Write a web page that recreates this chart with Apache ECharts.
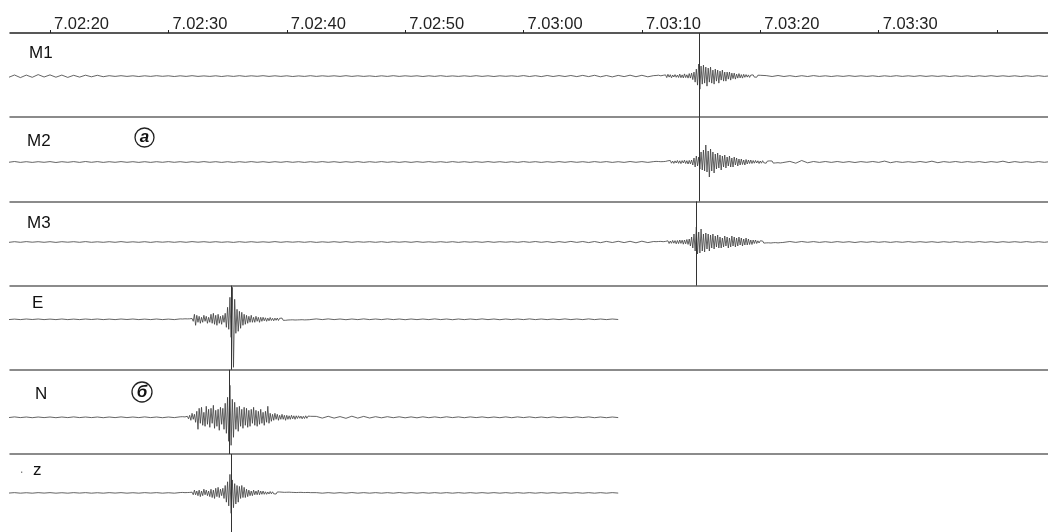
<!DOCTYPE html>
<html><head><meta charset="utf-8">
<script src="https://cdn.jsdelivr.net/npm/echarts@6/dist/echarts.min.js"></script>
<style>html,body{margin:0;padding:0;background:#fff}#c{width:1048px;height:532px}</style>
</head><body><div id="c"></div>
<script>
// time in seconds after 7.02:00
const channelNames = ['M1','M2','M3','E','N','z'];
const tickTimes = [20,30,40,50,60,70,80,90,100];
const tickLabels = ['7.02:20','7.02:30','7.02:40','7.02:50','7.03:00','7.03:10','7.03:20','7.03:30',''];
const pickTimes = [74.83, 74.87, 74.58, 35.29, 35.14, 35.29];
const eventStart = [71.0, 71.0, 71.0, 31.0, 31.0, 31.0];
const dtEvent = 0.1;
const dtNoise = 0.5;

const M1_pre = [1.2,-1,1.4,-1.3,1.1,-1.5,1,-1.2,1.5,-.9,1.2,-1.1,1,-1.3,.8,-1,.9,-.7,.8,-.6,.4,-.3,.4,-.3,.3,-.4,.3,-.3,.4,-.2,.3,-.4,.3,-.3,.4,-.3,.2,-.3,.3,-.4,.3,-.3,.4,-.3,.3,-.2,.4,-.3,.3,-.3,.3,-.4,.2,-.3,.4,-.3,.3,-.2,.3,-.3,.4,-.3,.3,-.3,.2,-.4,.3,-.3,.4,-.3,.3,-.2,.3,-.4,.3,-.3,.4,-.3,.2,-.3,.3,-.3,.4,-.3,.3,-.4,.3,-.2,.3,-.3,.5,-.4,.4,-.5,.6,-.4,.5,-.4,.6,-.5,.7,-.5,.8,-.7,.6,-.8,.7,-.5,.9,-.6,.8,-.7];
const M1_event = [.5,-.8,.6,-.4,.9,-.7,.3,-.6,.8,-.5,1.2,-1.5,1.8,-1,1.4,-1.7,1.1,-.9,1.5,-1.2,1,-1.4,2,-1.6,1.2,-1.8,2.2,-1.5,1.3,-2,2.5,-2,3,-3.5,4,-6,7,-9,12,-13,10,-8,11,-7,9,-10,8,-6,9,-7,6,-8,7,-5,6,-7,5,-4,6,-5,4,-5,4,-3,4,-4,3,-2.5,3,-3,2,-2,2.5,-1.8,1.5,-2,1.8,-1.2,1.5,-1,1.2,-1.3,1,-.8,1.2,-1,.8,-1.1,.9,-.7,.8];
const M1_post = [.5,-.4,.6,-.4,.4,-.5,.4,-.4,.5,-.3,.3,-.4,.3,-.3,.4,-.3,.3,-.3,.3,-.4,.3,-.3,.4,-.3,.3,-.3,.4,-.3,.3,-.3,.3,-.4,.3,-.3,.3,-.4,.3,-.3,.4,-.3,.3,-.3,.3,-.4,.3,-.3,.4,-.3,.3,-.3];

const M2_pre = [.3,-.4,.4,-.3,.5,-.4,.3,-.4,.3,-.3,.4,-.5,.3,-.3,.4,-.4,.5,-.3,.4,-.4,.3,-.3,.4,-.3,.3,-.4,.3,-.4,.3,-.3,.4,-.3,.3,-.4,.3,-.3,.4,-.3,.3,-.4,.3,-.4,.3,-.3,.4,-.3,.3,-.4,.3,-.3,.4,-.3,.3,-.4,.3,-.3,.4,-.3,.3,-.4,.3,-.3,.4,-.4,.3,-.3,.4,-.3,.3,-.4,.3,-.4,.3,-.3,.4,-.3,.3,-.4,.4,-.3,.3,-.4,.3,-.3,.4,-.3,.3,-.4,.3,-.4,.4,-.3,.3,-.4,.3,-.3,.4,-.3,.4,-.3,.3,-.4,.4,-.3,.4,-.4,.3,-.4,.5,-.3,.4,-.4];
const M2_event = [.4,-.5,.6,-.4,.5,-.6,.3,-.5,.4,-.3,.6,-1,1.2,-.8,1.5,-1.2,.9,-1.4,1.1,-1,1.5,-1.3,1.2,-1.6,1.4,-1,1.8,-1.5,1.3,-2,1.6,-1.8,2,-3,4,-5,6,-4,5,-7,10,-8,12,-9,17,-10,11,-15,13,-9,10,-11,8,-7,9,-6,7,-8,6,-5,7,-6,5,-4,6,-5,4,-5,5,-3,4,-4,3,-3,3,-2.5,2,-3,2.5,-2,2,-1.5,2,-1.5,1.5,-1.2,1.5,-1,1.2,-1.5,1,-1.2,1.3,-.8,1,-1.2,.9,-1,1.1,-.8,1,-1.1,.8,-.9,1,-.7,.9,-1,.8,-.6,.8];
const M2_post = [.6,-1.2,1.5,-.8,.5,-.4,.5,-.4,.5,-.4,.4,-.5,.4,-.3,.5,-.4,.9,-.7,.4,-.4,.3,-.4,.5,-.4,.8,-.7,.4,-.3,.5,-.4,.4,-.3,.4,-.5,.4,-.3,.8,-.6,.4,-.4,.3,-.4,.4,-.3,.4,-.4,.3];

const M3_pre = [.3,-.3,.2,-.4,.3,-.3,.4,-.2,.3,-.3,.3,-.4,.3,-.2,.3,-.3,.4,-.3,.2,-.3,.3,-.3,.4,-.3,.2,-.3,.3,-.4,.3,-.2,.3,-.3,.3,-.3,.4,-.2,.3,-.3,.3,-.3,.2,-.4,.3,-.3,.3,-.3,.2,-.3,.4,-.3,.3,-.2,.3,-.3,.3,-.4,.2,-.3,.3,-.3,.4,-.3,.3,-.2,.3,-.3,.3,-.4,.3,-.2,.3,-.3,.4,-.3,.2,-.3,.3,-.3,.3,-.4,.3,-.2,.3,-.3,.4,-.3,.3,-.2,.3,-.3,.4,-.3,.5,-.3,.4,-.5,.4,-.4,.6,-.4,.5,-.6,.5,-.7,.6,-.5,.7,-.6,.7,-.8,.8,-.6];
const M3_event = [.5,-.4,.3,-.6,.5,-.4,.6,-.5,.3,-.4,.6,-1,1.2,-1.5,1,-1.3,1.6,-1.2,1.4,-1.8,1.5,-1.6,2,-1.4,1.8,-2.2,2,-1.8,2.5,-2.4,3,-4,5,-6,8,-9,15,-12,10,-11,13,-9,8,-10,9,-7,8,-9,7,-6,8,-7,6,-5,7,-6,5,-6,4,-5,6,-4,5,-6,4,-5,6,-4,5,-5,4,-4,5,-3,4,-4,3,-3,4,-3,3,-2.5,2,-2.5,2,-1.5,2,-1.5,1.2,-1,1.2,-.8,1,-1.1,.7,-.9,1,-.8,.6,-1,.8,-.7,.9,-.6,.8,-.9,.7,-.6,.8,-.5,.7];
const M3_post = [.5,-.4,.5,-.3,.4,-.4,.3,-.4,.4,-.3,.3,-.5,.3,-.3,.4,-.3,.3,-.4,.3,-.3,.4,-.3,.3,-.3,.3,-.4,.3,-.3,.4,-.3,.3,-.3,.4,-.3,.3,-.4,.3,-.3,.3,-.3,.4,-.3,.3,-.3,.4,-.3,.3];

const E_pre = [.3,-.3,.2,-.3,.3,-.2,.3,-.3,.2,-.3,.3,-.3,.2,-.3,.3,-.2,.3,-.3,.2,-.3,.3,-.2,.3,-.3,.2,-.3,.3,-.3,.2,-.3];
const E_event = [.4,-.5,.3,-.4,.5,-.3,.4,-.6,.5,-.4,.8,-2,5,-6,4,-3,3,-4,2,-3,4,-2,3,-4,2,-3,5,-4,6,-5,4,-6,5,-4,3,-5,4,-3,6,-8,12,-10,22,-18,32,-48,20,-14,10,-12,8,-9,7,-6,5,-5,4,-4,3,-3,4,-3,2,-3,3,-2,2,-3,2,-2,2,-1.5,1.5,-2,1.2,-1.5,1.8,-1.2,1,-1.5,1.2,-1,1.3,-1.2,1,-.8,1.2,-1,.8,-1,.9,-.7,.8,-.6,.7,-.5,.6,-.7,.5,-.6,.4,-.5,.6,-.4,.5,-.6,.4,-.5,.3,-.4,.5];
const E_post = [.4,-.3,.4,-.3,.3,-.4,.3,-.3,.4,-.3,.3,-.3,.4,-.3,.3,-.4,.3,-.3,.3,-.3,.4,-.3,.3,-.4,.3,-.3,.3,-.3,.4,-.3,.3,-.4,.3,-.3,.3,-.3,.4,-.3,.3,-.3,.3,-.3,.4,-.3,.3,-.3,.4,-.3,.3,-.3,.3,-.2];

const N_pre = [.3,-.3,.4,-.3,.3,-.4,.3,-.3,.3,-.4,.3,-.3,.4,-.3,.3,-.3,.3,-.4,.3,-.3,.4,-.3,.3,-.3,.4,-.3,.3,-.4,.3,-.3];
const N_event = [.5,-.4,.6,-.5,.4,-.6,1,-1.5,2,-3,4,-2,3,-5,6,-12,9,-6,10,-8,5,-9,11,-7,8,-10,9,-6,12,-11,7,-9,8,-13,10,-7,9,-12,14,-16,20,-24,32,-28,18,-20,15,-12,10,-14,11,-9,8,-11,10,-8,9,-10,7,-9,8,-6,10,-8,7,-9,6,-7,8,-6,5,-8,6,-5,11,-6,4,-4,3,-3,4,-2,3,-3,2,-2,3,-2,2,-3,2,-2,1.5,-2,2,-1.5,1.5,-2,1.5,-1.2,1.5,-1,1.2,-1.5,1,-1.2,1.5,-1,1.2,-.8,1];
const N_post = [.9,-.8,1,-.8,.7,-1,1.1,-.8,.9,-.7,.6,-.5,.6,-.4,.5,-.5,.4,-.5,.5,-.4,.4,-.4,.5,-.3,.4,-.4,.4,-.3,.4,-.4,.3,-.4,.4,-.4,.4,-.3,.4,-.4,.3,-.4,.4,-.4,.3,-.4,.4,-.3,.4,-.4,.3,-.4,.3,-.3];

const Z_pre = [.3,-.2,.3,-.3,.2,-.3,.3,-.2,.3,-.3,.2,-.3,.3,-.2,.3,-.3,.2,-.3,.3,-.2,.3,-.3,.2,-.3,.3,-.2,.3,-.3,.2,-.3];
const Z_event = [.4,-.3,.5,-.4,.3,-.5,.4,-.3,.5,-.6,.8,-2,3,-2,2,-3,3,-4,2,-3,4,-2,3,-3,2,-4,4,-5,3,-6,5,-4,6,-5,4,-3,5,-6,8,-10,12,-14,20,-22,14,-16,10,-12,8,-10,7,-6,8,-5,6,-5,4,-4,3,-3,2,-3,3,-2,2,-2,3,-2,2,-1.5,2,-1.5,1.2,-1.5,1,-1.2,1.5,-1,1.2,-1,.8,-1.2,1,-.8,1,-.7,.8,-1,.6,-.8,.7,-.6,.8,-.5,.6,-.4,.5,-.6,.4,-.5,.5,-.4,.6,-.3,.4,-.5,.4,-.3,.5,-.4,.3];
const Z_post = [.3,-.3,.3,-.3,.3,-.3,.4,-.3,.3,-.3,.3,-.3,.3,-.3,.4,-.3,.3,-.3,.3,-.3,.3,-.3,.3,-.3,.3,-.3,.3,-.3,.3,-.3,.3,-.3,.3,-.3,.3,-.3,.3,-.3,.3,-.3,.3,-.3,.3,-.3,.3,-.3,.3,-.3,.3,-.3,.3,-.2];

const traces = [
  [M1_pre, M1_event, M1_post],
  [M2_pre, M2_event, M2_post],
  [M3_pre, M3_event, M3_post],
  [E_pre, E_event, E_post],
  [N_pre, N_event, N_post],
  [Z_pre, Z_event, Z_post]
];

function buildTrace(pre, ev, post, t0) {
  const pts = [];
  pre.forEach((v, i) => pts.push([+(t0 - dtNoise * (pre.length - i)).toFixed(3), v]));
  ev.forEach((v, i) => pts.push([+(t0 + dtEvent * i).toFixed(3), v]));
  const tEnd = t0 + dtEvent * (ev.length - 1);
  post.forEach((v, i) => pts.push([+(tEnd + dtNoise * (i + 1)).toFixed(3), v]));
  return pts;
}

// layout
const X_MIN = 16.621, X_MAX = 104.307;
const panelTop = 33, panelH = 84.2;
const yRanges = [[-41, 43], [-39.4, 44.8], [-43.6, 40.6], [-50.5, 33.7], [-36.7, 47.5], [-42.2, 42]];
const labelPos = [[29, 45], [27, 133], [27, 215], [32, 295], [35, 386], [33, 462]];

const grids = [], xAxes = [], yAxes = [], series = [], titles = [];
channelNames.forEach((name, i) => {
  grids.push({ left: 10, right: 0, top: panelTop + panelH * i, height: panelH });
  const first = i === 0;
  xAxes.push({
    type: 'value', gridIndex: i, position: 'top', min: X_MIN, max: X_MAX,
    axisLine: { show: true, onZero: false, lineStyle: { color: first ? '#222' : '#666', width: 1.5 } },
    axisTick: { show: first, length: 3, customValues: tickTimes, lineStyle: { color: '#222', width: 1 } },
    axisLabel: {
      show: first, customValues: tickTimes, align: 'left', margin: 0,
      padding: [0, 0, 0, 4], fontSize: 16.5, color: '#222', fontFamily: 'Liberation Sans, Arial, sans-serif',
      formatter: v => { const k = tickTimes.indexOf(Math.round(v)); return k >= 0 ? tickLabels[k] : ''; }
    },
    splitLine: { show: false }
  });
  yAxes.push({ type: 'value', gridIndex: i, min: yRanges[i][0], max: yRanges[i][1], show: false });
  const [pre, ev, post] = traces[i];
  series.push({
    name: name, type: 'line', xAxisIndex: i, yAxisIndex: i,
    data: buildTrace(pre, ev, post, eventStart[i]),
    showSymbol: false, symbol: 'none', clip: true, silent: true,
    lineStyle: { color: '#3c3c3c', width: 0.8 },
    markLine: {
      silent: true, symbol: ['none', 'none'], label: { show: false },
      lineStyle: { color: '#333', width: 1, type: 'solid' },
      data: [{ xAxis: pickTimes[i] }]
    }
  });
  titles.push({
    text: name, left: labelPos[i][0], top: labelPos[i][1], padding: 0,
    textStyle: { fontSize: 17, fontWeight: 'normal', color: '#111', lineHeight: 16, fontFamily: 'Liberation Sans, Arial, sans-serif' }
  });
});
// small dot before z
titles.push({ text: '.', left: 20, top: 462, padding: 0, textStyle: { fontSize: 12, fontWeight: 'normal', color: '#777', lineHeight: 16 } });
// circled annotations (а), (б)
const circ = { width: 19, height: 19, lineHeight: 19, borderRadius: 10, borderColor: '#222', borderWidth: 1.3, align: 'center', fontStyle: 'italic', fontSize: 17, color: '#111', fontFamily: 'Liberation Sans, Arial, sans-serif' };
titles.push({ text: '{c|а}', left: 135, top: 128, padding: 0, textStyle: { rich: { c: circ } } });
titles.push({ text: '{c|б}', left: 132, top: 382, padding: 0, textStyle: { rich: { c: Object.assign({}, circ, { width: 20, height: 20, lineHeight: 20 }) } } });

const chart = echarts.init(document.getElementById('c'), null, { renderer: 'canvas' });
chart.setOption({
  backgroundColor: '#fff', animation: false,
  title: titles, grid: grids, xAxis: xAxes, yAxis: yAxes, series: series
});
</script></body></html>
